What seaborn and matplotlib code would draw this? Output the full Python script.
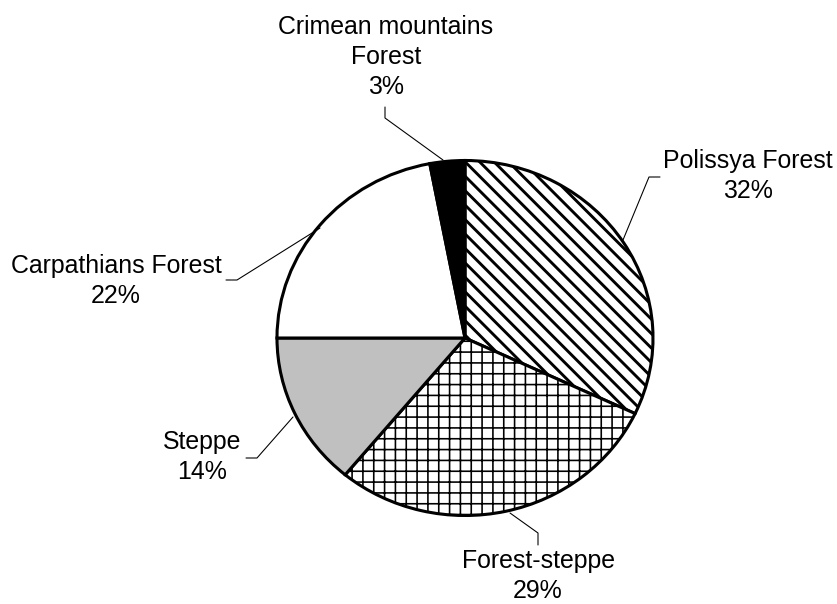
import matplotlib
matplotlib.use("Agg")
import matplotlib.pyplot as plt
import seaborn as sns
import numpy as np

# ---- data ----
regions = ["Polissya Forest", "Forest-steppe", "Steppe", "Carpathians Forest", "Crimean mountains\nForest"]
shares = [32, 29, 14, 22, 3]

sns.set_theme(style="white")
plt.rcParams["font.family"] = ["Liberation Sans", "DejaVu Sans"]
plt.rcParams["hatch.linewidth"] = 1.6
plt.rcParams["hatch.color"] = "black"

DPI = 130
W, H = 837, 604
fig = plt.figure(figsize=(W / DPI, H / DPI), dpi=DPI)
fig.patch.set_facecolor("white")

# pie ellipse in pixels
cx, cy, rx, ry = 465, 338, 188, 177.5
ax = fig.add_axes([(cx - rx) / W, (H - (cy + ry)) / H, 2 * rx / W, 2 * ry / H])

fills = ["white", "white", "#c0c0c0", "white", "black"]
hatches = ["\\\\\\", "++", None, None, None]

wedges, _ = ax.pie(shares, startangle=90, counterclock=False, colors=fills,
                   wedgeprops=dict(edgecolor="black", linewidth=1.7))
for w, h in zip(wedges, hatches):
    if h:
        w.set_hatch(h)
hl = [1.6, 0.9]
for w, lw in zip(wedges[:2], hl):
    if hasattr(w, "set_hatch_linewidth"):
        w.set_hatch_linewidth(lw)

ax.set_aspect("auto")
ax.set_xlim(-1, 1)
ax.set_ylim(-1, 1)
ax.axis("off")


def d(px, py):
    return ((px - cx) / rx, (cy - py) / ry)


# label positions (pixels) and leader paths
label_pos = [(748, 176), (538, 576), (202, 457), (116, 281), (386, 57)]
leaders = [
    [(660, 177), (649, 177), (623, 240)],
    [(538, 545), (538, 533), (510, 513)],
    [(246, 458), (257, 458), (293, 417)],
    [(226, 280), (237, 280), (320, 228)],
    [(385, 107), (385, 118), (443, 160)],
]

for name, val, pos, path in zip(regions, shares, label_pos, leaders):
    x, y = d(*pos)
    ax.text(x, y, f"{name}\n{val}%", ha="center", va="center", fontsize=13.8,
            linespacing=1.33, color="black", clip_on=False)
    pts = np.array([d(*p) for p in path])
    ax.plot(pts[:, 0], pts[:, 1], color="black", lw=0.6, clip_on=False)

fig.savefig("out.png", dpi=DPI)
